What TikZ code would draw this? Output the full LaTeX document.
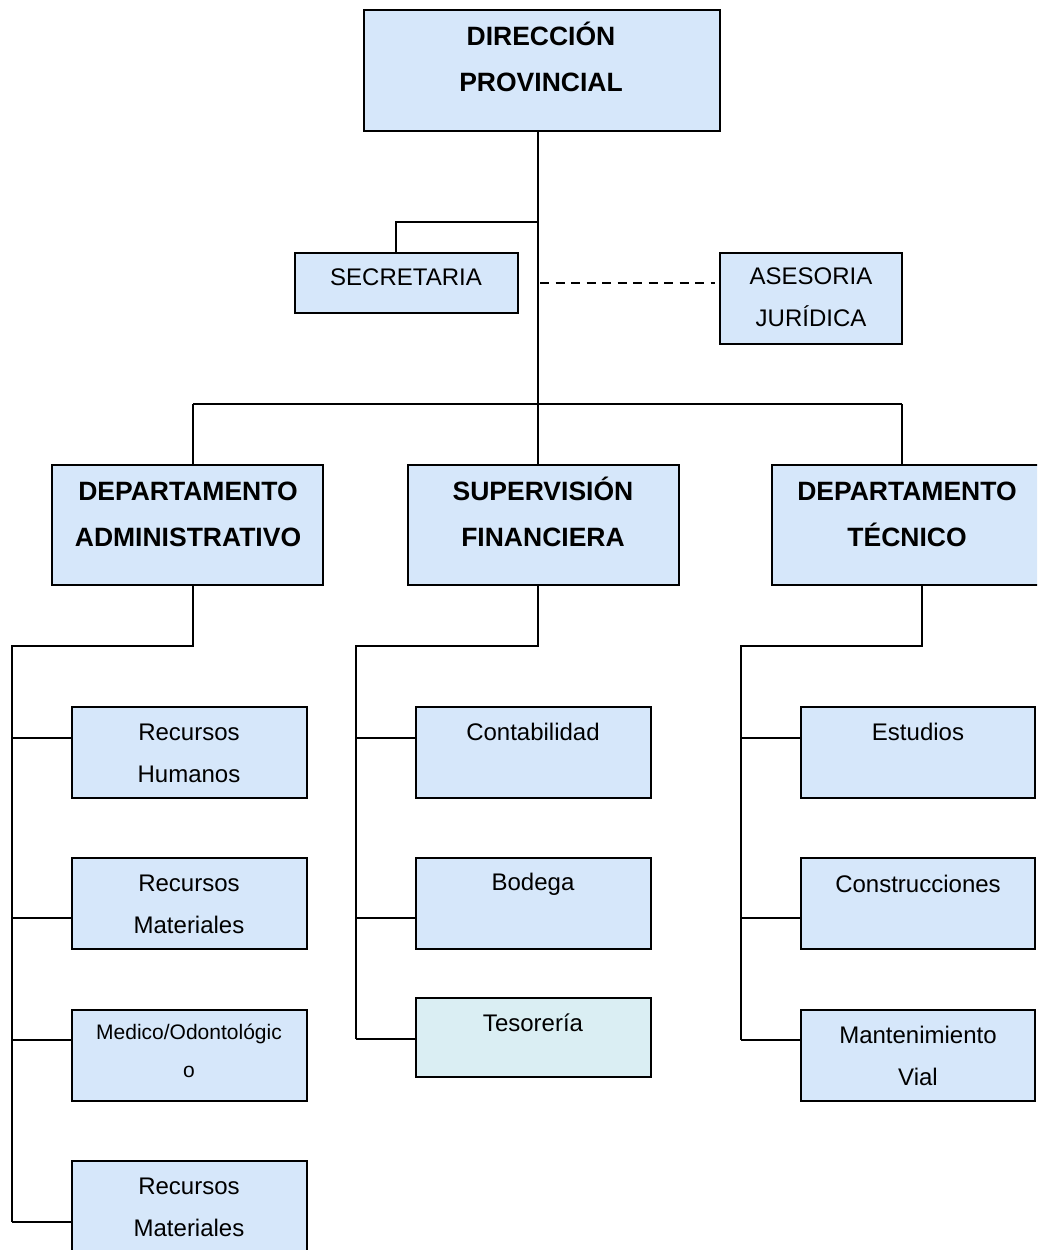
\documentclass[tikz,border=0pt]{standalone}
\usepackage{fontspec}
\setmainfont{Liberation Sans}
\definecolor{dotfill}{RGB}{214,231,250}
\definecolor{tesfill}{RGB}{218,238,243}
\tikzset{
  box/.style={draw=black, line width=1.8pt, fill=dotfill, inner sep=0pt},
  conn/.style={line width=1.4pt, black},
  head/.style={align=center, font=\fontsize{26.5}{46}\selectfont\bfseries, inner sep=0pt},
  txt/.style={align=center, font=\fontsize{24}{42}\selectfont, inner sep=0pt},
  small/.style={align=center, font=\fontsize{21}{38}\selectfont, inner sep=0pt}
}
\begin{document}
\begin{tikzpicture}[x=1pt,y=-1pt]
\useasboundingbox (0,0) rectangle (1037,1250);
\clip (0,0) rectangle (1037,1250);
\fill[white] (0,0) rectangle (1037,1250);
% boxes
\node[box, minimum width=356pt, minimum height=121pt] (dir) at (542,70.5) {};
\node[box, minimum width=223pt, minimum height=60pt] (sec) at (406.5,283) {};
\node[box, minimum width=182pt, minimum height=91pt] (ase) at (811,298.5) {};
\node[box, minimum width=271pt, minimum height=120pt] (adm) at (187.5,525) {};
\node[box, minimum width=271pt, minimum height=120pt] (fin) at (543.5,525) {};
\node[box, minimum width=271pt, minimum height=120pt] (tec) at (907.5,525) {};
% admin children
\node[box, minimum width=235pt, minimum height=91pt] (rh) at (189.5,752.5) {};
\node[box, minimum width=235pt, minimum height=91pt] (rm) at (189.5,903.5) {};
\node[box, minimum width=235pt, minimum height=91pt] (med) at (189.5,1055.5) {};
\node[box, minimum width=235pt, minimum height=91pt] (rm2) at (189.5,1206.5) {};
% fin children
\node[box, minimum width=235pt, minimum height=91pt] (con) at (533.5,752.5) {};
\node[box, minimum width=235pt, minimum height=91pt] (bod) at (533.5,903.5) {};
\node[box, fill=tesfill, minimum width=235pt, minimum height=79pt] (tes) at (533.5,1037.5) {};
% tec children
\node[box, minimum width=234pt, minimum height=91pt] (est) at (918,752.5) {};
\node[box, minimum width=234pt, minimum height=91pt] (cons) at (918,903.5) {};
\node[box, minimum width=234pt, minimum height=91pt] (man) at (918,1055.5) {};
% texts
\node[head] (tdir) at (541,57) {DIRECCIÓN\\PROVINCIAL};
\node[txt] (tsec) at (406,277) {SECRETARIA};
\node[txt] (tase) at (811,297.5) {ASESORIA\\JURÍDICA};
\node[head] (tadm) at (188,514) {DEPARTAMENTO\\ADMINISTRATIVO};
\node[head] (tfin) at (543,512) {SUPERVISIÓN\\FINANCIERA};
\node[head] (ttec) at (907,514) {DEPARTAMENTO\\TÉCNICO};
\node[txt] (trh) at (189,753) {Recursos\\Humanos};
\node[txt] (trm) at (189,904.5) {Recursos\\Materiales};
\node[small] (tmed) at (189,1051) {Medico/Odontológic\\o};
\node[txt] (trm2) at (189,1207.5) {Recursos\\Materiales};
\node[txt] (tcon) at (533,732) {Contabilidad};
\node[txt] (tbod) at (533,884) {Bodega};
\node[txt] (ttes) at (533,1023) {Tesorería};
\node[txt] (test) at (918,732) {Estudios};
\node[txt] (tcons) at (918,884) {Construcciones};
\node[txt] (tman) at (918,1056) {Mantenimiento\\Vial};
% connectors top
\coordinate (trunk) at (538,404);
\coordinate (sj) at (538,222);
\coordinate (sx) at (396,222);
\draw[conn] (dir.south -| trunk) -- (trunk);
\draw[conn] (sj) -- (sx) -- (sx |- sec.north);
\coordinate (d1) at (540,283);
\coordinate (d2) at (715,283);
\draw[conn, line width=1.8pt, dash pattern=on 9pt off 6.5pt] (d1) -- (d2);
\coordinate (bl) at (193,404);
\coordinate (br) at (902,404);
\draw[conn] (bl) -- (br);
\draw[conn] (bl) -- (bl |- adm.north);
\draw[conn] (br) -- (br |- tec.north);
\draw[conn] (trunk) -- (trunk |- fin.north);
% admin tree
\coordinate (a0) at (193,646);
\coordinate (a1) at (12,646);
\coordinate (a2) at (12,1222);
\draw[conn] (a0 |- adm.south) -- (a0) -- (a1) -- (a2);
\draw[conn] (12,738) -- (rh.west |- 12,738);
\draw[conn] (12,918) -- (rm.west |- 12,918);
\draw[conn] (12,1040) -- (med.west |- 12,1040);
\draw[conn] (a2) -- (rm2.west |- a2);
% fin tree
\coordinate (f0) at (538,646);
\coordinate (f1) at (356,646);
\coordinate (f2) at (356,1039);
\draw[conn] (f0 |- fin.south) -- (f0) -- (f1) -- (f2);
\draw[conn] (356,738) -- (con.west |- 356,738);
\draw[conn] (356,918) -- (bod.west |- 356,918);
\draw[conn] (f2) -- (tes.west |- f2);
% tec tree
\coordinate (e0) at (922,646);
\coordinate (e1) at (741,646);
\coordinate (e2) at (741,1040);
\draw[conn] (e0 |- tec.south) -- (e0) -- (e1) -- (e2);
\draw[conn] (741,738) -- (est.west |- 741,738);
\draw[conn] (741,918) -- (cons.west |- 741,918);
\draw[conn] (e2) -- (man.west |- e2);
\end{tikzpicture}
\end{document}
